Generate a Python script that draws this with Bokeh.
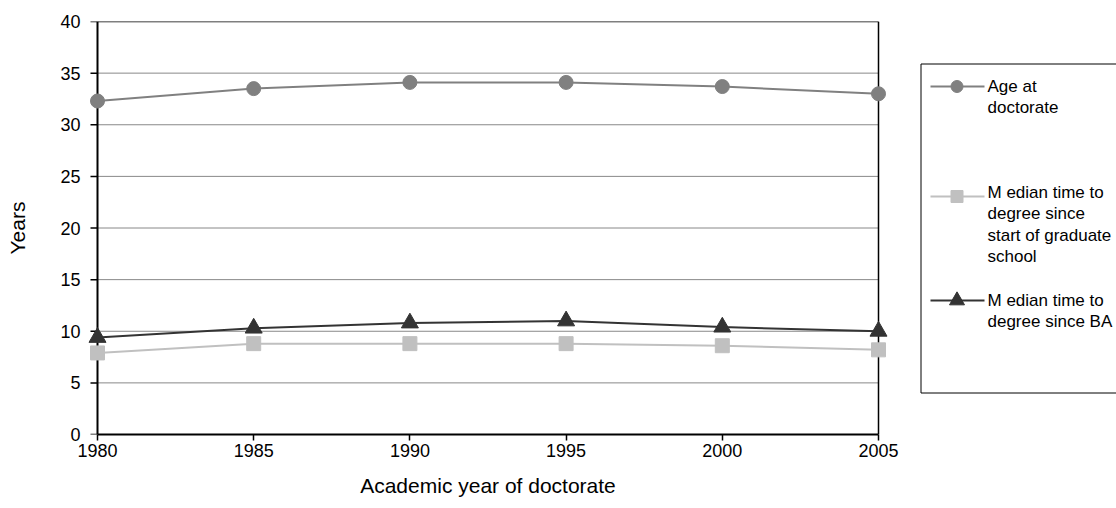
import math
from bokeh.plotting import figure
from bokeh.models import Range1d, FixedTicker, ColumnDataSource
from bokeh.layouts import row
from bokeh.core.properties import value
from bokeh.embed import file_html
from bokeh.resources import INLINE

# ---- data ----
years = [1980, 1985, 1990, 1995, 2000, 2005]
age_at_doctorate = [32.3, 33.5, 34.1, 34.1, 33.7, 33.0]
median_since_grad = [7.9, 8.8, 8.8, 8.8, 8.6, 8.2]
median_since_ba = [9.4, 10.3, 10.8, 11.0, 10.4, 10.0]
y_ticks = [0, 5, 10, 15, 20, 25, 30, 35, 40]
series_names = ["Age at doctorate",
                "Median time to degree since start of graduate school",
                "Median time to degree since BA"]
legend_lines = [["Age at", "doctorate"],
                ["M edian time to", "degree since", "start of graduate", "school"],
                ["M edian time to", "degree since BA"]]

FONT = "Liberation Sans"
colors = ["#808080", "#c0c0c0", "#333333"]
markers = ["circle", "square", "triangle"]
sizes = [14, 14, 17]
series = [age_at_doctorate, median_since_grad, median_since_ba]

x0, x1 = years[0], years[-1]
y0, y1 = y_ticks[0], y_ticks[-1]
# frame is 12 px wider than the data area on each side so edge markers are not clipped
data_px = 781
pad = 12 * (x1 - x0) / data_px

p = figure(width=903, height=508, x_range=Range1d(x0 - pad, x1 + pad), y_range=Range1d(y0, y1),
           output_backend="svg", toolbar_location=None,
           min_border_left=85, min_border_right=13, min_border_top=21, min_border_bottom=74)
p.background_fill_color = "white"
p.border_fill_color = "white"
p.outline_line_color = None
p.grid.visible = False

p.xaxis.ticker = FixedTicker(ticks=years)
p.yaxis.ticker = FixedTicker(ticks=y_ticks)
p.xaxis.bounds = (x0, x1)
for ax in (p.xaxis[0], p.yaxis[0]):
    ax.axis_line_color = "black"
    ax.axis_line_width = 2
    ax.major_tick_line_color = "black"
    ax.major_tick_line_width = 1.5
    ax.major_tick_in = 0
    ax.minor_tick_line_color = None
    ax.major_label_text_font = FONT
    ax.major_label_text_font_size = "18px"
    ax.major_label_text_color = "black"
    ax.axis_label_text_font = FONT
    ax.axis_label_text_font_size = "21px"
    ax.axis_label_text_font_style = "normal"
    ax.axis_label_text_color = "black"
p.xaxis.axis_label = "Academic year of doctorate"
p.yaxis.axis_label = "Years"
p.xaxis.major_tick_out = 6
p.xaxis.major_label_standoff = 3
p.xaxis.axis_label_standoff = 14
# the left axis only carries the labels; its line and ticks are drawn at 1980 below
p.yaxis.axis_line_color = None
p.yaxis.major_tick_line_color = None
p.yaxis.major_tick_out = 0
p.yaxis.major_label_standoff = 5
p.yaxis.axis_label_standoff = 28

# grid lines, y axis line + ticks, plot-area border, spanning the data range only
inner = y_ticks[1:-1]
p.segment(x0=[x0] * len(inner), y0=inner, x1=[x1] * len(inner), y1=inner,
          line_color="#888888", line_width=1)
p.segment(x0=[x0, x1], y0=[y1, y0], x1=[x1, x1], y1=[y1, y1],
          line_color="black", line_width=1.5)
p.segment(x0=[x0], y0=[y0], x1=[x0], y1=[y1], line_color="black", line_width=2)
p.ray(x=[x0] * len(y_ticks), y=y_ticks, length=7, length_units="screen",
      angle=math.pi, line_color="black", line_width=1.5)

for vals, c, m, s, name in zip(series, colors, markers, sizes, series_names):
    src = ColumnDataSource(dict(x=years, y=vals))
    p.line("x", "y", source=src, line_color=c, line_width=2)
    p.scatter("x", "y", source=src, marker=m, size=s, fill_color=c, line_color=c)

# ---- legend panel (y in screen pixels) ----
leg = figure(width=213, height=508, x_range=Range1d(903, 1116), y_range=Range1d(434, 21),
             output_backend="svg", toolbar_location=None,
             min_border_left=0, min_border_right=0, min_border_top=21, min_border_bottom=74,
             x_axis_location=None, y_axis_location=None)
leg.grid.visible = False
leg.outline_line_color = None
leg.background_fill_color = "white"
leg.border_fill_color = "white"
leg.quad(left=[920.5], right=[1140], top=[63.5], bottom=[392.5],
         fill_color=None, line_color="black", line_width=1)

marker_y = [86, 196, 300]
text_y0 = [86, 192, 300]
for i in range(3):
    leg.segment(x0=[930], y0=[marker_y[i]], x1=[984], y1=[marker_y[i]],
                line_color=colors[i], line_width=2)
    leg.scatter([956.5], [marker_y[i]], marker=markers[i], size=sizes[i] - 2,
                fill_color=colors[i], line_color=colors[i])
    lines = legend_lines[i]
    leg.text(x=[987] * len(lines), y=[text_y0[i] + 21.3 * k for k in range(len(lines))],
             text=lines, text_font=value(FONT), text_font_size="17px",
             text_baseline="middle", text_align="left", text_color="black")

layout = row(p, leg)
open("out.html", "w").write(file_html(layout, INLINE))
